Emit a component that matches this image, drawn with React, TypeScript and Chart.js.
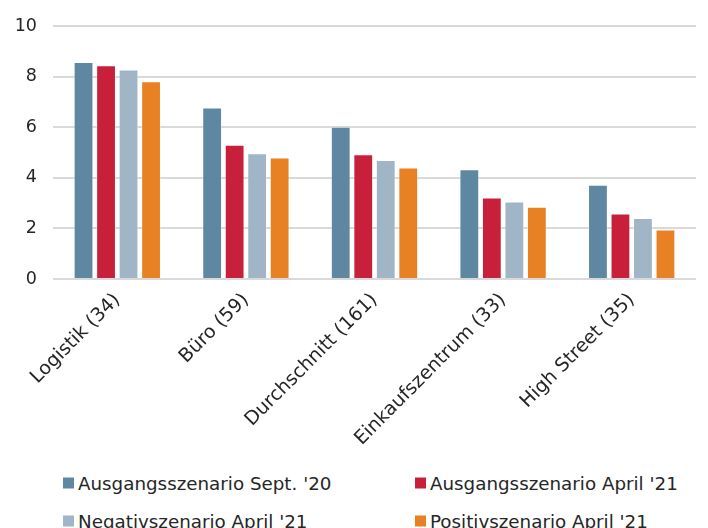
import React, { useEffect, useRef } from "react";
import { Chart, registerables } from "chart.js";

Chart.register(...registerables);

const categories = ["Logistik (34)", "Büro (59)", "Durchschnitt (161)", "Einkaufszentrum (33)", "High Street (35)"];
const seriesNames = ["Ausgangsszenario Sept. '20", "Ausgangsszenario April '21", "Negativszenario April '21", "Positivszenario April '21"];
const ausgangSept20 = [8.58, 6.78, 6.02, 4.34, 3.73];
const ausgangApril21 = [8.45, 5.31, 4.93, 3.22, 2.59];
const negativApril21 = [8.28, 4.97, 4.70, 3.06, 2.41];
const positivApril21 = [7.82, 4.80, 4.41, 2.86, 1.96];
const seriesColors = ["#5E87A1", "#C8203A", "#A0B6C6", "#E88024"];
const yTicks = [0, 2, 4, 6, 8, 10];

const FONT = "'DejaVu Sans', sans-serif";
const TEXT = "#262626";

export default function App() {
  const ref = useRef<HTMLCanvasElement>(null);
  useEffect(() => {
    document.body.style.margin = "0";
    const values = [ausgangSept20, ausgangApril21, negativApril21, positivApril21];
    const chart = new Chart(ref.current!, {
      type: "bar",
      data: {
        labels: categories,
        datasets: seriesNames.map((name, i) => ({
          label: name,
          data: values[i],
          backgroundColor: seriesColors[i],
          borderColor: "rgba(255,255,255,0.35)",
          borderWidth: 1,
          categoryPercentage: 0.7,
          barPercentage: 0.88,
        })),
      },
      options: {
        responsive: false,
        animation: false,
        layout: { padding: { top: 26, right: 12, left: 0, bottom: 0 } },
        plugins: { legend: { display: false }, tooltip: { enabled: false } },
        scales: {
          y: {
            min: 0,
            max: 10,
            afterBuildTicks: (s: any) => { s.ticks = yTicks.map((v) => ({ value: v })); },
            afterFit: (s: any) => { s.width = 53; s.paddingTop = 0; },
            ticks: { font: { family: FONT, size: 17.5 }, color: TEXT, padding: 16 },
            grid: { color: "#D9D9D9", lineWidth: 2, drawTicks: false },
            border: { display: false },
          },
          x: {
            afterFit: (s: any) => { s.height = 460 - 279; },
            ticks: { font: { family: FONT, size: 19 }, color: TEXT, minRotation: 45, maxRotation: 45, padding: 2 },
            grid: { display: false },
            border: { display: false },
          },
        },
      },
    });
    return () => chart.destroy();
  }, []);

  const legendPos = [
    { left: 63, top: 483 },
    { left: 415, top: 483 },
    { left: 63, top: 521 },
    { left: 415, top: 521 },
  ];

  return (
    <div style={{ position: "relative", width: 708, height: 560, fontFamily: FONT }}>
      <canvas ref={ref} width={708} height={460} style={{ display: "block" }} />
      {seriesNames.map((name, i) => (
        <div
          key={name}
          style={{
            position: "absolute",
            left: legendPos[i].left,
            top: legendPos[i].top,
            transform: "translateY(-50%)",
            display: "flex",
            alignItems: "center",
            whiteSpace: "nowrap",
            fontSize: 18.3,
            color: TEXT,
          }}
        >
          <span style={{ display: "inline-block", width: 11, height: 11, background: seriesColors[i], marginRight: 4 }} />
          <span>{name}</span>
        </div>
      ))}
    </div>
  );
}
